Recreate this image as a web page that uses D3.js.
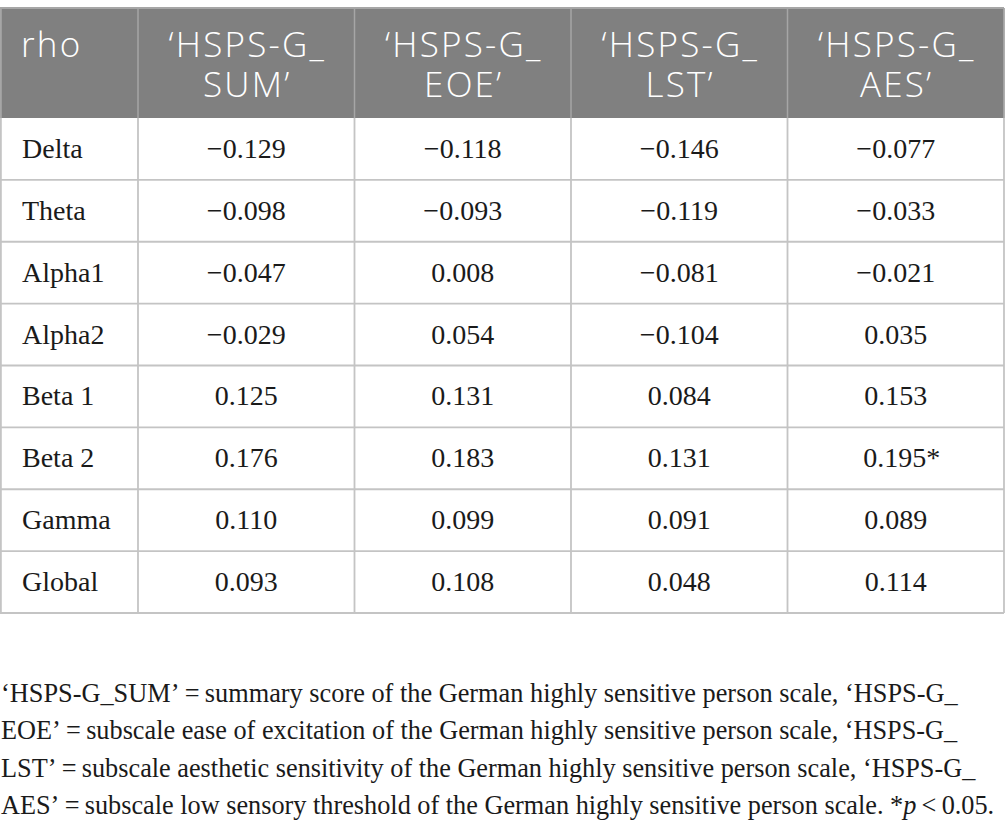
<!DOCTYPE html>
<html>
<head>
<meta charset="utf-8">
<script src="https://cdn.jsdelivr.net/npm/d3@7"></script>
<style>
  body { margin: 0; background: #fff; }
  .head { font-family: "Open Sans", "Lato", sans-serif; font-weight: 350; fill: #fff; letter-spacing: 2.2px; }
  .cell { font-family: "Liberation Serif", "DejaVu Serif", serif; fill: #1a1a1a; }
  .note { font-family: "Liberation Serif", "DejaVu Serif", serif; fill: #1a1a1a; }
</style>
</head>
<body>
<script>
// table content
var bands = ["Delta", "Theta", "Alpha1", "Alpha2", "Beta 1", "Beta 2", "Gamma", "Global"];
var scales = ["SUM", "EOE", "LST", "AES"];
var sum_rho = [-0.129, -0.098, -0.047, -0.029, 0.125, 0.176, 0.110, 0.093];
var eoe_rho = [-0.118, -0.093, 0.008, 0.054, 0.131, 0.183, 0.099, 0.108];
var lst_rho = [-0.146, -0.119, -0.081, -0.104, 0.084, 0.131, 0.091, 0.048];
var aes_rho = [-0.077, -0.033, -0.021, 0.035, 0.153, 0.195, 0.089, 0.114];
var significant = [["AES", "Beta 2"]];
var notes = [
  [["\u2018HSPS-G_SUM\u2019\u2009=\u2009summary score of the German highly sensitive person scale, \u2018HSPS-G_", false]],
  [["EOE\u2019\u2009=\u2009subscale ease of excitation of the German highly sensitive person scale, \u2018HSPS-G_", false]],
  [["LST\u2019\u2009=\u2009subscale aesthetic sensitivity of the German highly sensitive person scale, \u2018HSPS-G_", false]],
  [["AES\u2019\u2009=\u2009subscale low sensory threshold of the German highly sensitive person scale. *", false], ["p", true], ["\u2009<\u20090.05.", false]]
];

var values = {SUM: sum_rho, EOE: eoe_rho, LST: lst_rho, AES: aes_rho};

var w = 1005, h = 834;
var tableTop = 8, headH = 110, tableBottom = 613;
var firstCol = 138, right = 1004;

var svg = d3.select("body").append("svg")
    .attr("width", w)
    .attr("height", h);

// scales for rows and columns
var yScale = d3.scaleBand()
    .domain(bands)
    .range([tableTop + headH, tableBottom]);

var xScale = d3.scaleBand()
    .domain(scales)
    .range([firstCol, right]);

var fmt = d3.format(".3f");

// header background
svg.append("rect")
   .attr("x", 0)
   .attr("y", tableTop)
   .attr("width", right)
   .attr("height", headH)
   .style("fill", "#808080");

// header texts
svg.append("text")
   .attr("class", "head")
   .attr("x", 21)
   .attr("y", 57)
   .style("font-size", "35px")
   .text("rho");

var heads = svg.selectAll(".colhead")
    .data(scales)
    .enter().append("text")
    .attr("class", "head colhead")
    .attr("text-anchor", "middle")
    .style("font-size", "35px");

heads.append("tspan")
     .attr("x", function(d) { return xScale(d) + xScale.bandwidth() / 2 + 1; })
     .attr("y", 57)
     .text("\u2018HSPS-G_");
heads.append("tspan")
     .attr("x", function(d) { return xScale(d) + xScale.bandwidth() / 2 + 1; })
     .attr("y", 97)
     .text(function(d) { return d + "\u2019"; });

// header vertical lines
svg.selectAll(".hline")
   .data(scales)
   .enter().append("line")
   .attr("x1", function(d) { return xScale(d); })
   .attr("x2", function(d) { return xScale(d); })
   .attr("y1", tableTop)
   .attr("y2", tableTop + headH)
   .style("stroke", "#a6a6a6")
   .style("stroke-width", 1.5);

// body grid lines
svg.selectAll(".rowline")
   .data(bands)
   .enter().append("line")
   .attr("x1", 0)
   .attr("x2", right)
   .attr("y1", function(d) { return yScale(d) + yScale.bandwidth(); })
   .attr("y2", function(d) { return yScale(d) + yScale.bandwidth(); })
   .style("stroke", "#c4c4c4")
   .style("stroke-width", 1.8);

svg.selectAll(".colline")
   .data([0.9].concat(scales.map(function(d) { return xScale(d); }), [right]))
   .enter().append("line")
   .attr("x1", function(d) { return d; })
   .attr("x2", function(d) { return d; })
   .attr("y1", tableTop + headH)
   .attr("y2", tableBottom)
   .style("stroke", "#c4c4c4")
   .style("stroke-width", 1.8);

// outer border round the header
svg.append("line")
   .attr("x1", 0).attr("x2", right)
   .attr("y1", tableTop).attr("y2", tableTop)
   .style("stroke", "#a6a6a6")
   .style("stroke-width", 1.8);
svg.append("line")
   .attr("x1", 0.9).attr("x2", 0.9)
   .attr("y1", tableTop).attr("y2", tableTop + headH)
   .style("stroke", "#a6a6a6")
   .style("stroke-width", 1.8);
svg.append("line")
   .attr("x1", right).attr("x2", right)
   .attr("y1", tableTop).attr("y2", tableTop + headH)
   .style("stroke", "#a6a6a6")
   .style("stroke-width", 1.8);

// row labels
svg.selectAll(".label")
   .data(bands)
   .enter().append("text")
   .attr("class", "cell")
   .attr("x", 22)
   .attr("y", function(d) { return yScale(d) + yScale.bandwidth() / 2 + 9; })
   .style("font-size", "28px")
   .text(function(d) { return d; });

// cells
var cells = [];
scales.forEach(function(s) {
  bands.forEach(function(b, i) {
    var star = significant.some(function(p) { return p[0] == s && p[1] == b; });
    cells.push({scale: s, band: b, value: values[s][i], star: star});
  });
});

svg.selectAll(".val")
   .data(cells)
   .enter().append("text")
   .attr("class", "cell")
   .attr("text-anchor", "middle")
   .attr("x", function(d) { return xScale(d.scale) + xScale.bandwidth() / 2 + (d.star ? 6 : 0); })
   .attr("y", function(d) { return yScale(d.band) + yScale.bandwidth() / 2 + 9; })
   .style("font-size", "28px")
   .text(function(d) { return fmt(d.value) + (d.star ? "*" : ""); });

// footnote, each line squeezed to the width it has in the print
var noteY = d3.scaleLinear().domain([0, 3]).range([702, 814]);
var noteEnds = [958, 958, 976, 995];

var lines = svg.selectAll(".note")
   .data(notes)
   .enter().append("text")
   .attr("class", "note")
   .style("font-size", "27px");

lines.selectAll("tspan")
   .data(function(d) { return d; })
   .enter().append("tspan")
   .style("font-style", function(d) { return d[1] ? "italic" : "normal"; })
   .text(function(d) { return d[0]; });

lines.attr("transform", function(d, i) {
  var len = this.getComputedTextLength();
  return "translate(1," + noteY(i) + ") scale(" + ((noteEnds[i] - 1) / len) + ",1)";
});
</script>
</body>
</html>
